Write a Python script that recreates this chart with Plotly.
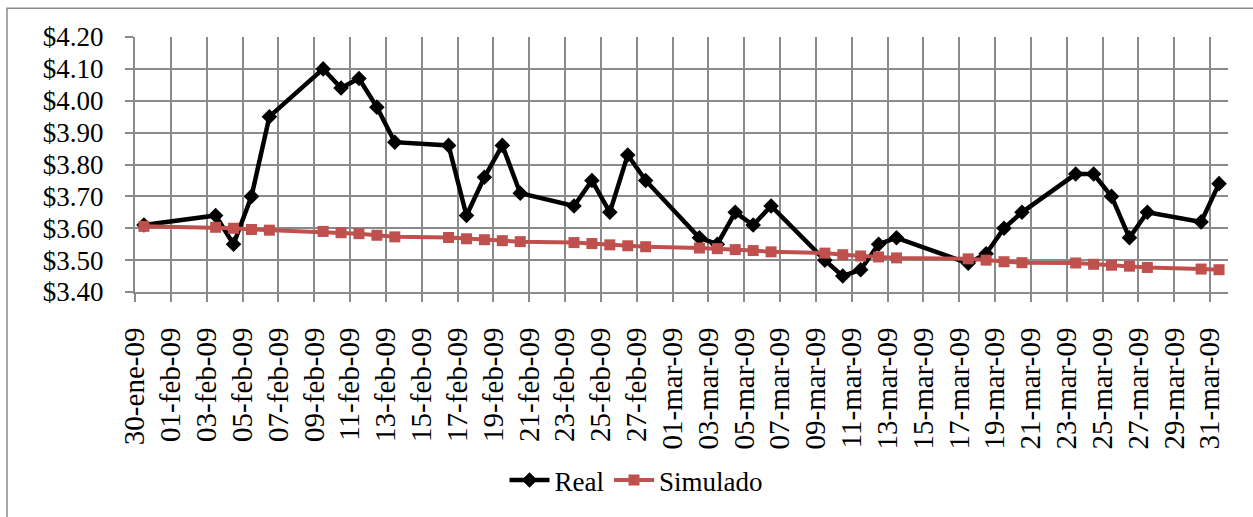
import pandas as pd
import plotly.graph_objects as go

dates = [
    "2009-01-30", "2009-02-03", "2009-02-04", "2009-02-05", "2009-02-06",
    "2009-02-09", "2009-02-10", "2009-02-11", "2009-02-12", "2009-02-13",
    "2009-02-16", "2009-02-17", "2009-02-18", "2009-02-19", "2009-02-20",
    "2009-02-23", "2009-02-24", "2009-02-25", "2009-02-26", "2009-02-27",
    "2009-03-02", "2009-03-03", "2009-03-04", "2009-03-05", "2009-03-06",
    "2009-03-09", "2009-03-10", "2009-03-11", "2009-03-12", "2009-03-13",
    "2009-03-17", "2009-03-18", "2009-03-19", "2009-03-20",
    "2009-03-23", "2009-03-24", "2009-03-25", "2009-03-26", "2009-03-27",
    "2009-03-30", "2009-03-31",
]

real = [
    3.61, 3.64, 3.55, 3.70, 3.95,
    4.10, 4.04, 4.07, 3.98, 3.87,
    3.86, 3.64, 3.76, 3.86, 3.71,
    3.67, 3.75, 3.65, 3.83, 3.75,
    3.57, 3.55, 3.65, 3.61, 3.67,
    3.50, 3.45, 3.47, 3.55, 3.57,
    3.49, 3.52, 3.60, 3.65,
    3.77, 3.77, 3.70, 3.57, 3.65,
    3.62, 3.74,
]

simulado = [
    3.606, 3.603, 3.600, 3.596, 3.594,
    3.590, 3.586, 3.583, 3.578, 3.573,
    3.571, 3.567, 3.564, 3.561, 3.558,
    3.555, 3.552, 3.548, 3.545, 3.542,
    3.538, 3.536, 3.533, 3.530, 3.526,
    3.522, 3.517, 3.513, 3.510, 3.507,
    3.504, 3.500, 3.495, 3.492,
    3.491, 3.487, 3.484, 3.481, 3.477,
    3.472, 3.470,
]

tick_dates = [
    "2009-01-30", "2009-02-01", "2009-02-03", "2009-02-05", "2009-02-07",
    "2009-02-09", "2009-02-11", "2009-02-13", "2009-02-15", "2009-02-17",
    "2009-02-19", "2009-02-21", "2009-02-23", "2009-02-25", "2009-02-27",
    "2009-03-01", "2009-03-03", "2009-03-05", "2009-03-07", "2009-03-09",
    "2009-03-11", "2009-03-13", "2009-03-15", "2009-03-17", "2009-03-19",
    "2009-03-21", "2009-03-23", "2009-03-25", "2009-03-27", "2009-03-29",
    "2009-03-31",
]
tick_labels = [
    "30-ene-09", "01-feb-09", "03-feb-09", "05-feb-09", "07-feb-09",
    "09-feb-09", "11-feb-09", "13-feb-09", "15-feb-09", "17-feb-09",
    "19-feb-09", "21-feb-09", "23-feb-09", "25-feb-09", "27-feb-09",
    "01-mar-09", "03-mar-09", "05-mar-09", "07-mar-09", "09-mar-09",
    "11-mar-09", "13-mar-09", "15-mar-09", "17-mar-09", "19-mar-09",
    "21-mar-09", "23-mar-09", "25-mar-09", "27-mar-09", "29-mar-09",
    "31-mar-09",
]
y_ticks = [3.40, 3.50, 3.60, 3.70, 3.80, 3.90, 4.00, 4.10, 4.20]

# Excel-style date axis: each day occupies a slot, points sit mid-slot
x_pts = pd.to_datetime(dates) + pd.Timedelta(hours=12)

GRID = "#8a8a8a"
RED = "#C0504D"
FONT = "Liberation Serif"

fig = go.Figure()
fig.add_trace(go.Scatter(
    x=x_pts, y=real, name="Real", mode="lines+markers",
    line=dict(color="black", width=4.5),
    marker=dict(symbol="diamond", size=12, color="black"),
))
fig.add_trace(go.Scatter(
    x=x_pts, y=simulado, name="Simulado", mode="lines+markers",
    line=dict(color=RED, width=4),
    marker=dict(symbol="square", size=11, color=RED),
))

W, H = 1253, 517
L, R, T, B = 135, 25, 37, 223
pw, ph = W - L - R, H - T - B

def px(xp):
    return (xp - L) / pw

def py(yp):
    return (H - B - yp) / ph

fig.update_layout(
    width=W, height=H,
    margin=dict(l=L, r=R, t=T, b=B),
    paper_bgcolor="white", plot_bgcolor="white",
    font=dict(family=FONT, color="black"),
    showlegend=True,
    legend=dict(
        orientation="h", x=px(636), y=py(484), xanchor="center", yanchor="middle",
        font=dict(size=27, family=FONT, color="black"), bgcolor="rgba(0,0,0,0)",
        itemwidth=40, tracegroupgap=0,
    ),
    xaxis=dict(
        type="date",
        range=["2009-01-30", "2009-04-01"],
        tickmode="array", tickvals=tick_dates, ticktext=tick_labels,
        tickangle=-90, tickfont=dict(size=29, family=FONT, color="black"),
        showgrid=True, gridcolor=GRID, gridwidth=2,
        showline=True, linecolor=GRID, linewidth=2,
        ticks="outside", ticklen=8, tickcolor=GRID, tickwidth=2,
        ticklabelstandoff=14,
        zeroline=False, automargin=False, fixedrange=True,
    ),
    yaxis=dict(
        range=[3.40, 4.20],
        tickmode="array", tickvals=y_ticks,
        tickformat="$.2f", tickfont=dict(size=27, family=FONT, color="black"),
        showgrid=True, gridcolor=GRID, gridwidth=2,
        showline=True, linecolor=GRID, linewidth=2,
        ticks="outside", ticklen=8, tickcolor=GRID, tickwidth=2,
        ticklabelstandoff=16,
        zeroline=False, automargin=False, fixedrange=True,
    ),
    shapes=[dict(
        type="rect", xref="paper", yref="paper",
        x0=px(7), x1=px(W + 20), y0=py(H + 20), y1=py(8),
        line=dict(color=GRID, width=1.5), fillcolor="rgba(0,0,0,0)", layer="below",
    )],
)

fig.write_html(
    "out.html",
    config={"displayModeBar": False},
    post_script="document.body.style.margin='0';",
)
